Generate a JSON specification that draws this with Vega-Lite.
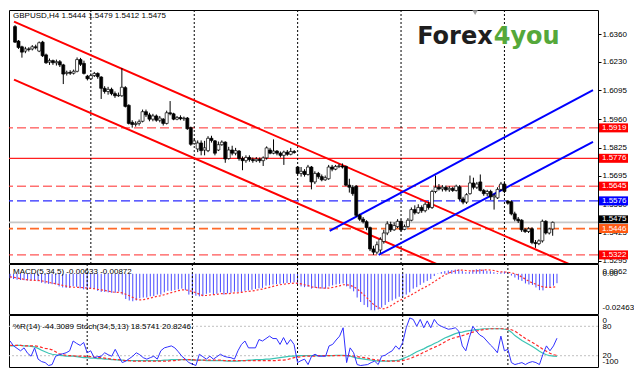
{
"$schema": "https://vega.github.io/schema/vega-lite/v6.json",
"background": "white",
"padding": {"left": 7, "top": 9, "right": 0, "bottom": 0},
"spacing": 1,
"bounds": "flush",
"config": {"view": {"stroke": "#000000", "strokeWidth": 1}, "font": "Liberation Sans", "axis": {"labelOverlap": false, "labelBound": false}},
"datasets": {
"weeks": [{"w":22},{"w":52},{"w":82},{"w":112},{"w":142}],
"levels": [{"p":1.5919,"k":"r"},{"p":1.5776,"k":"rs"},{"p":1.5645,"k":"r"},{"p":1.5576,"k":"b"},{"p":1.5475,"k":"g"},{"p":1.5446,"k":"o"},{"p":1.5322,"k":"r"}],
"chan": [{"ln":"redU","i":-0.3,"p":1.6418},{"ln":"redU","i":167.7,"p":1.5230},{"ln":"redL","i":-0.3,"p":1.6146},{"ln":"redL","i":130,"p":1.5225},{"ln":"blueU","i":91.3,"p":1.5435},{"ln":"blueU","i":167.7,"p":1.6097},{"ln":"blueL","i":105.5,"p":1.5322},{"ln":"blueL","i":167.7,"p":1.5853}],
"wrlev": [{"v":80},{"v":20}],
"bars": [
{"i":0,"o":1.6395,"h":1.6402,"l":1.6318,"c":1.6322,"m":-0.0030,"s":-0.0020,"wr":-50,"st":40,"ss":41},
{"i":1,"o":1.6327,"h":1.6332,"l":1.6290,"c":1.6297,"m":-0.0035,"s":-0.0024,"wr":-60,"st":40,"ss":41},
{"i":2,"o":1.6300,"h":1.6305,"l":1.6249,"c":1.6275,"m":-0.0040,"s":-0.0028,"wr":-65,"st":41,"ss":41},
{"i":3,"o":1.6280,"h":1.6300,"l":1.6270,"c":1.6290,"m":-0.0042,"s":-0.0033,"wr":-70,"st":41,"ss":41},
{"i":4,"o":1.6290,"h":1.6298,"l":1.6278,"c":1.6288,"m":-0.0043,"s":-0.0038,"wr":-64,"st":40,"ss":40},
{"i":5,"o":1.6290,"h":1.6308,"l":1.6283,"c":1.6300,"m":-0.0045,"s":-0.0041,"wr":-75,"st":40,"ss":40},
{"i":6,"o":1.6300,"h":1.6310,"l":1.6288,"c":1.6296,"m":-0.0045,"s":-0.0043,"wr":-81,"st":39,"ss":40},
{"i":7,"o":1.6280,"h":1.6325,"l":1.6275,"c":1.6319,"m":-0.0042,"s":-0.0044,"wr":-64,"st":38,"ss":40},
{"i":8,"o":1.6322,"h":1.6328,"l":1.6252,"c":1.6258,"m":-0.0050,"s":-0.0045,"wr":-87,"st":35,"ss":39},
{"i":9,"o":1.6262,"h":1.6268,"l":1.6220,"c":1.6225,"m":-0.0060,"s":-0.0048,"wr":-92,"st":31,"ss":37},
{"i":10,"o":1.6228,"h":1.6245,"l":1.6215,"c":1.6235,"m":-0.0065,"s":-0.0052,"wr":-94,"st":28,"ss":35},
{"i":11,"o":1.6235,"h":1.6240,"l":1.6215,"c":1.6225,"m":-0.0068,"s":-0.0057,"wr":-100,"st":25,"ss":34},
{"i":12,"o":1.6225,"h":1.6240,"l":1.6212,"c":1.6230,"m":-0.0070,"s":-0.0063,"wr":-98,"st":23,"ss":32},
{"i":13,"o":1.6230,"h":1.6238,"l":1.6205,"c":1.6215,"m":-0.0072,"s":-0.0067,"wr":-81,"st":22,"ss":28},
{"i":14,"o":1.6215,"h":1.6220,"l":1.6125,"c":1.6172,"m":-0.0085,"s":-0.0072,"wr":-78,"st":21,"ss":24},
{"i":15,"o":1.6175,"h":1.6188,"l":1.6165,"c":1.6180,"m":-0.0092,"s":-0.0078,"wr":-76,"st":20,"ss":22},
{"i":16,"o":1.6180,"h":1.6190,"l":1.6168,"c":1.6176,"m":-0.0095,"s":-0.0083,"wr":-74,"st":19,"ss":21},
{"i":17,"o":1.6176,"h":1.6193,"l":1.6170,"c":1.6185,"m":-0.0095,"s":-0.0088,"wr":-70,"st":19,"ss":20},
{"i":18,"o":1.6185,"h":1.6250,"l":1.6180,"c":1.6240,"m":-0.0085,"s":-0.0090,"wr":-50,"st":19,"ss":20},
{"i":19,"o":1.6240,"h":1.6248,"l":1.6210,"c":1.6218,"m":-0.0088,"s":-0.0091,"wr":-55,"st":18,"ss":19},
{"i":20,"o":1.6222,"h":1.6235,"l":1.6170,"c":1.6175,"m":-0.0098,"s":-0.0092,"wr":-59,"st":17,"ss":19},
{"i":21,"o":1.6162,"h":1.6168,"l":1.6142,"c":1.6150,"m":-0.0105,"s":-0.0094,"wr":-53,"st":16,"ss":19},
{"i":22,"o":1.6150,"h":1.6175,"l":1.6145,"c":1.6165,"m":-0.0102,"s":-0.0096,"wr":-74,"st":16,"ss":18},
{"i":23,"o":1.6165,"h":1.6182,"l":1.6158,"c":1.6175,"m":-0.0100,"s":-0.0098,"wr":-70,"st":15,"ss":18},
{"i":24,"o":1.6175,"h":1.6180,"l":1.6150,"c":1.6160,"m":-0.0102,"s":-0.0101,"wr":-84,"st":15,"ss":17},
{"i":25,"o":1.6158,"h":1.6162,"l":1.6055,"c":1.6105,"m":-0.0115,"s":-0.0105,"wr":-82,"st":14,"ss":16},
{"i":26,"o":1.6105,"h":1.6115,"l":1.6080,"c":1.6090,"m":-0.0122,"s":-0.0108,"wr":-81,"st":14,"ss":16},
{"i":27,"o":1.6090,"h":1.6112,"l":1.6075,"c":1.6100,"m":-0.0122,"s":-0.0112,"wr":-74,"st":13,"ss":15},
{"i":28,"o":1.6100,"h":1.6108,"l":1.6072,"c":1.6080,"m":-0.0125,"s":-0.0117,"wr":-78,"st":13,"ss":14},
{"i":29,"o":1.6080,"h":1.6090,"l":1.6060,"c":1.6070,"m":-0.0128,"s":-0.0122,"wr":-81,"st":12,"ss":13},
{"i":30,"o":1.6070,"h":1.6085,"l":1.6065,"c":1.6072,"m":-0.0128,"s":-0.0125,"wr":-67,"st":12,"ss":12},
{"i":31,"o":1.6070,"h":1.6200,"l":1.6065,"c":1.6110,"m":-0.0120,"s":-0.0125,"wr":-81,"st":11,"ss":12},
{"i":32,"o":1.6108,"h":1.6115,"l":1.6015,"c":1.6020,"m":-0.0140,"s":-0.0128,"wr":-94,"st":11,"ss":11},
{"i":33,"o":1.6025,"h":1.6030,"l":1.5935,"c":1.5940,"m":-0.0170,"s":-0.0138,"wr":-91,"st":10,"ss":10},
{"i":34,"o":1.5945,"h":1.5955,"l":1.5920,"c":1.5935,"m":-0.0180,"s":-0.0148,"wr":-86,"st":10,"ss":10},
{"i":35,"o":1.5935,"h":1.5950,"l":1.5925,"c":1.5940,"m":-0.0185,"s":-0.0159,"wr":-81,"st":10,"ss":9},
{"i":36,"o":1.5940,"h":1.5958,"l":1.5930,"c":1.5948,"m":-0.0180,"s":-0.0171,"wr":-74,"st":10,"ss":9},
{"i":37,"o":1.5950,"h":1.6005,"l":1.5945,"c":1.5995,"m":-0.0165,"s":-0.0176,"wr":-78,"st":10,"ss":9},
{"i":38,"o":1.5995,"h":1.6005,"l":1.5970,"c":1.5980,"m":-0.0160,"s":-0.0174,"wr":-84,"st":10,"ss":9},
{"i":39,"o":1.5980,"h":1.5990,"l":1.5950,"c":1.5960,"m":-0.0160,"s":-0.0170,"wr":-87,"st":10,"ss":9},
{"i":40,"o":1.5960,"h":1.5985,"l":1.5950,"c":1.5975,"m":-0.0152,"s":-0.0163,"wr":-84,"st":10,"ss":9},
{"i":41,"o":1.5975,"h":1.5982,"l":1.5948,"c":1.5955,"m":-0.0150,"s":-0.0157,"wr":-81,"st":10,"ss":9},
{"i":42,"o":1.5955,"h":1.5975,"l":1.5945,"c":1.5965,"m":-0.0140,"s":-0.0152,"wr":-87,"st":10,"ss":9},
{"i":43,"o":1.5960,"h":1.5965,"l":1.5930,"c":1.5940,"m":-0.0140,"s":-0.0148,"wr":-70,"st":10,"ss":9},
{"i":44,"o":1.5940,"h":1.6000,"l":1.5935,"c":1.5990,"m":-0.0125,"s":-0.0141,"wr":-64,"st":11,"ss":9},
{"i":45,"o":1.5990,"h":1.6045,"l":1.5978,"c":1.5985,"m":-0.0115,"s":-0.0134,"wr":-62,"st":11,"ss":9},
{"i":46,"o":1.5985,"h":1.5990,"l":1.5955,"c":1.5960,"m":-0.0115,"s":-0.0127,"wr":-60,"st":12,"ss":10},
{"i":47,"o":1.5960,"h":1.5975,"l":1.5955,"c":1.5968,"m":-0.0110,"s":-0.0121,"wr":-64,"st":12,"ss":10},
{"i":48,"o":1.5968,"h":1.5978,"l":1.5955,"c":1.5962,"m":-0.0105,"s":-0.0114,"wr":-72,"st":12,"ss":11},
{"i":49,"o":1.5962,"h":1.5972,"l":1.5952,"c":1.5965,"m":-0.0100,"s":-0.0109,"wr":-81,"st":12,"ss":12},
{"i":50,"o":1.5965,"h":1.5970,"l":1.5910,"c":1.5915,"m":-0.0110,"s":-0.0108,"wr":-87,"st":12,"ss":12},
{"i":51,"o":1.5920,"h":1.5925,"l":1.5835,"c":1.5842,"m":-0.0140,"s":-0.0114,"wr":-94,"st":12,"ss":12},
{"i":52,"o":1.5845,"h":1.5870,"l":1.5840,"c":1.5858,"m":-0.0145,"s":-0.0120,"wr":-97,"st":11,"ss":12},
{"i":53,"o":1.5820,"h":1.5860,"l":1.5805,"c":1.5848,"m":-0.0148,"s":-0.0128,"wr":-100,"st":11,"ss":11},
{"i":54,"o":1.5848,"h":1.5860,"l":1.5790,"c":1.5812,"m":-0.0152,"s":-0.0137,"wr":-77,"st":11,"ss":11},
{"i":55,"o":1.5815,"h":1.5858,"l":1.5790,"c":1.5825,"m":-0.0150,"s":-0.0147,"wr":-82,"st":11,"ss":11},
{"i":56,"o":1.5812,"h":1.5880,"l":1.5805,"c":1.5870,"m":-0.0135,"s":-0.0146,"wr":-87,"st":10,"ss":11},
{"i":57,"o":1.5870,"h":1.5882,"l":1.5850,"c":1.5860,"m":-0.0128,"s":-0.0143,"wr":-81,"st":10,"ss":11},
{"i":58,"o":1.5858,"h":1.5862,"l":1.5790,"c":1.5800,"m":-0.0140,"s":-0.0141,"wr":-87,"st":10,"ss":11},
{"i":59,"o":1.5815,"h":1.5855,"l":1.5810,"c":1.5840,"m":-0.0135,"s":-0.0139,"wr":-82,"st":10,"ss":11},
{"i":60,"o":1.5840,"h":1.5860,"l":1.5835,"c":1.5852,"m":-0.0125,"s":-0.0134,"wr":-77,"st":10,"ss":11},
{"i":61,"o":1.5852,"h":1.5856,"l":1.5755,"c":1.5773,"m":-0.0140,"s":-0.0134,"wr":-81,"st":10,"ss":10},
{"i":62,"o":1.5775,"h":1.5830,"l":1.5770,"c":1.5815,"m":-0.0132,"s":-0.0134,"wr":-83,"st":9,"ss":10},
{"i":63,"o":1.5815,"h":1.5835,"l":1.5790,"c":1.5800,"m":-0.0128,"s":-0.0132,"wr":-84,"st":9,"ss":10},
{"i":64,"o":1.5800,"h":1.5825,"l":1.5790,"c":1.5812,"m":-0.0120,"s":-0.0129,"wr":-87,"st":9,"ss":10},
{"i":65,"o":1.5810,"h":1.5815,"l":1.5765,"c":1.5775,"m":-0.0122,"s":-0.0128,"wr":-70,"st":9,"ss":10},
{"i":66,"o":1.5775,"h":1.5785,"l":1.5720,"c":1.5765,"m":-0.0122,"s":-0.0125,"wr":-57,"st":10,"ss":10},
{"i":67,"o":1.5765,"h":1.5790,"l":1.5755,"c":1.5780,"m":-0.0115,"s":-0.0121,"wr":-50,"st":10,"ss":10},
{"i":68,"o":1.5780,"h":1.5790,"l":1.5760,"c":1.5770,"m":-0.0112,"s":-0.0118,"wr":-64,"st":11,"ss":10},
{"i":69,"o":1.5770,"h":1.5780,"l":1.5755,"c":1.5765,"m":-0.0108,"s":-0.0116,"wr":-64,"st":11,"ss":10},
{"i":70,"o":1.5765,"h":1.5782,"l":1.5758,"c":1.5772,"m":-0.0102,"s":-0.0112,"wr":-64,"st":12,"ss":10},
{"i":71,"o":1.5772,"h":1.5780,"l":1.5755,"c":1.5765,"m":-0.0098,"s":-0.0107,"wr":-47,"st":12,"ss":10},
{"i":72,"o":1.5765,"h":1.5785,"l":1.5740,"c":1.5778,"m":-0.0095,"s":-0.0103,"wr":-50,"st":12,"ss":10},
{"i":73,"o":1.5778,"h":1.5832,"l":1.5770,"c":1.5825,"m":-0.0080,"s":-0.0097,"wr":-45,"st":13,"ss":10},
{"i":74,"o":1.5815,"h":1.5825,"l":1.5795,"c":1.5800,"m":-0.0078,"s":-0.0091,"wr":-40,"st":13,"ss":10},
{"i":75,"o":1.5800,"h":1.5865,"l":1.5795,"c":1.5810,"m":-0.0072,"s":-0.0085,"wr":-45,"st":14,"ss":10},
{"i":76,"o":1.5810,"h":1.5815,"l":1.5790,"c":1.5800,"m":-0.0070,"s":-0.0079,"wr":-45,"st":15,"ss":10},
{"i":77,"o":1.5800,"h":1.5808,"l":1.5780,"c":1.5790,"m":-0.0068,"s":-0.0074,"wr":-57,"st":16,"ss":11},
{"i":78,"o":1.5790,"h":1.5812,"l":1.5745,"c":1.5805,"m":-0.0065,"s":-0.0071,"wr":-43,"st":17,"ss":11},
{"i":79,"o":1.5805,"h":1.5815,"l":1.5788,"c":1.5795,"m":-0.0062,"s":-0.0067,"wr":-57,"st":18,"ss":12},
{"i":80,"o":1.5795,"h":1.5825,"l":1.5790,"c":1.5808,"m":-0.0060,"s":-0.0065,"wr":-47,"st":19,"ss":14},
{"i":81,"o":1.5808,"h":1.5815,"l":1.5798,"c":1.5803,"m":-0.0058,"s":-0.0063,"wr":-57,"st":19,"ss":16},
{"i":82,"o":1.5735,"h":1.5740,"l":1.5700,"c":1.5705,"m":-0.0075,"s":-0.0064,"wr":-94,"st":20,"ss":17},
{"i":83,"o":1.5705,"h":1.5735,"l":1.5690,"c":1.5715,"m":-0.0085,"s":-0.0068,"wr":-90,"st":20,"ss":18},
{"i":84,"o":1.5715,"h":1.5725,"l":1.5690,"c":1.5700,"m":-0.0090,"s":-0.0074,"wr":-87,"st":20,"ss":19},
{"i":85,"o":1.5700,"h":1.5745,"l":1.5695,"c":1.5735,"m":-0.0088,"s":-0.0079,"wr":-98,"st":20,"ss":19},
{"i":86,"o":1.5735,"h":1.5740,"l":1.5630,"c":1.5665,"m":-0.0100,"s":-0.0088,"wr":-81,"st":20,"ss":19},
{"i":87,"o":1.5665,"h":1.5715,"l":1.5655,"c":1.5705,"m":-0.0095,"s":-0.0092,"wr":-77,"st":20,"ss":19},
{"i":88,"o":1.5705,"h":1.5712,"l":1.5680,"c":1.5690,"m":-0.0098,"s":-0.0094,"wr":-81,"st":20,"ss":20},
{"i":89,"o":1.5690,"h":1.5700,"l":1.5668,"c":1.5675,"m":-0.0100,"s":-0.0096,"wr":-81,"st":20,"ss":20},
{"i":90,"o":1.5675,"h":1.5695,"l":1.5670,"c":1.5685,"m":-0.0100,"s":-0.0097,"wr":-81,"st":20,"ss":20},
{"i":91,"o":1.5680,"h":1.5745,"l":1.5675,"c":1.5735,"m":-0.0085,"s":-0.0096,"wr":-60,"st":20,"ss":20},
{"i":92,"o":1.5735,"h":1.5745,"l":1.5715,"c":1.5725,"m":-0.0078,"s":-0.0092,"wr":-57,"st":20,"ss":20},
{"i":93,"o":1.5725,"h":1.5745,"l":1.5720,"c":1.5738,"m":-0.0072,"s":-0.0087,"wr":-48,"st":21,"ss":20},
{"i":94,"o":1.5738,"h":1.5750,"l":1.5730,"c":1.5740,"m":-0.0068,"s":-0.0081,"wr":-40,"st":21,"ss":20},
{"i":95,"o":1.5740,"h":1.5752,"l":1.5728,"c":1.5735,"m":-0.0065,"s":-0.0074,"wr":-23,"st":21,"ss":20},
{"i":96,"o":1.5738,"h":1.5742,"l":1.5645,"c":1.5650,"m":-0.0085,"s":-0.0074,"wr":-94,"st":20,"ss":20},
{"i":97,"o":1.5650,"h":1.5680,"l":1.5615,"c":1.5640,"m":-0.0100,"s":-0.0078,"wr":-64,"st":19,"ss":20},
{"i":98,"o":1.5640,"h":1.5650,"l":1.5600,"c":1.5610,"m":-0.0118,"s":-0.0087,"wr":-74,"st":17,"ss":19},
{"i":99,"o":1.5645,"h":1.5650,"l":1.5500,"c":1.5508,"m":-0.0160,"s":-0.0102,"wr":-98,"st":15,"ss":18},
{"i":100,"o":1.5508,"h":1.5515,"l":1.5482,"c":1.5490,"m":-0.0190,"s":-0.0123,"wr":-100,"st":14,"ss":17},
{"i":101,"o":1.5490,"h":1.5500,"l":1.5470,"c":1.5478,"m":-0.0210,"s":-0.0144,"wr":-99,"st":13,"ss":16},
{"i":102,"o":1.5478,"h":1.5485,"l":1.5438,"c":1.5450,"m":-0.0225,"s":-0.0167,"wr":-98,"st":12,"ss":15},
{"i":103,"o":1.5450,"h":1.5455,"l":1.5340,"c":1.5350,"m":-0.0245,"s":-0.0192,"wr":-94,"st":11,"ss":13},
{"i":104,"o":1.5350,"h":1.5365,"l":1.5322,"c":1.5335,"m":-0.0246,"s":-0.0213,"wr":-91,"st":10,"ss":12},
{"i":105,"o":1.5335,"h":1.5385,"l":1.5325,"c":1.5370,"m":-0.0240,"s":-0.0227,"wr":-98,"st":9,"ss":11},
{"i":106,"o":1.5345,"h":1.5405,"l":1.5330,"c":1.5395,"m":-0.0228,"s":-0.0237,"wr":-81,"st":9,"ss":10},
{"i":107,"o":1.5385,"h":1.5440,"l":1.5375,"c":1.5425,"m":-0.0210,"s":-0.0234,"wr":-79,"st":9,"ss":10},
{"i":108,"o":1.5425,"h":1.5480,"l":1.5415,"c":1.5468,"m":-0.0190,"s":-0.0223,"wr":-74,"st":9,"ss":9},
{"i":109,"o":1.5465,"h":1.5478,"l":1.5430,"c":1.5440,"m":-0.0180,"s":-0.0210,"wr":-70,"st":10,"ss":9},
{"i":110,"o":1.5440,"h":1.5475,"l":1.5435,"c":1.5460,"m":-0.0168,"s":-0.0195,"wr":-60,"st":10,"ss":9},
{"i":111,"o":1.5455,"h":1.5490,"l":1.5448,"c":1.5480,"m":-0.0155,"s":-0.0181,"wr":-67,"st":11,"ss":9},
{"i":112,"o":1.5480,"h":1.5488,"l":1.5432,"c":1.5440,"m":-0.0150,"s":-0.0171,"wr":-53,"st":14,"ss":10},
{"i":113,"o":1.5442,"h":1.5465,"l":1.5438,"c":1.5455,"m":-0.0140,"s":-0.0159,"wr":-23,"st":17,"ss":12},
{"i":114,"o":1.5455,"h":1.5495,"l":1.5450,"c":1.5485,"m":-0.0125,"s":-0.0148,"wr":-3,"st":20,"ss":14},
{"i":115,"o":1.5485,"h":1.5545,"l":1.5480,"c":1.5535,"m":-0.0100,"s":-0.0134,"wr":-6,"st":24,"ss":17},
{"i":116,"o":1.5535,"h":1.5555,"l":1.5512,"c":1.5520,"m":-0.0090,"s":-0.0121,"wr":-20,"st":28,"ss":20},
{"i":117,"o":1.5520,"h":1.5560,"l":1.5515,"c":1.5545,"m":-0.0075,"s":-0.0106,"wr":-6,"st":31,"ss":23},
{"i":118,"o":1.5545,"h":1.5555,"l":1.5520,"c":1.5530,"m":-0.0060,"s":-0.0095,"wr":-23,"st":34,"ss":27},
{"i":119,"o":1.5530,"h":1.5570,"l":1.5522,"c":1.5560,"m":-0.0048,"s":-0.0082,"wr":-9,"st":38,"ss":30},
{"i":120,"o":1.5560,"h":1.5572,"l":1.5535,"c":1.5545,"m":-0.0035,"s":-0.0068,"wr":-23,"st":41,"ss":34},
{"i":121,"o":1.5545,"h":1.5628,"l":1.5538,"c":1.5620,"m":-0.0015,"s":-0.0053,"wr":-6,"st":45,"ss":37},
{"i":122,"o":1.5620,"h":1.5695,"l":1.5612,"c":1.5640,"m":0.0003,"s":-0.0037,"wr":-16,"st":48,"ss":40},
{"i":123,"o":1.5640,"h":1.5655,"l":1.5625,"c":1.5632,"m":0.0012,"s":-0.0022,"wr":-20,"st":52,"ss":44},
{"i":124,"o":1.5632,"h":1.5650,"l":1.5620,"c":1.5640,"m":0.0018,"s":-0.0008,"wr":-23,"st":56,"ss":48},
{"i":125,"o":1.5640,"h":1.5648,"l":1.5620,"c":1.5628,"m":0.0022,"s":0.0004,"wr":-26,"st":59,"ss":52},
{"i":126,"o":1.5628,"h":1.5645,"l":1.5618,"c":1.5635,"m":0.0025,"s":0.0013,"wr":-25,"st":62,"ss":55},
{"i":127,"o":1.5635,"h":1.5642,"l":1.5618,"c":1.5625,"m":0.0028,"s":0.0020,"wr":-23,"st":65,"ss":57},
{"i":128,"o":1.5625,"h":1.5652,"l":1.5620,"c":1.5645,"m":0.0030,"s":0.0025,"wr":-30,"st":67,"ss":59},
{"i":129,"o":1.5642,"h":1.5650,"l":1.5578,"c":1.5585,"m":0.0018,"s":0.0025,"wr":-60,"st":68,"ss":61},
{"i":130,"o":1.5585,"h":1.5595,"l":1.5560,"c":1.5570,"m":0.0010,"s":0.0022,"wr":-70,"st":70,"ss":63},
{"i":131,"o":1.5570,"h":1.5612,"l":1.5562,"c":1.5605,"m":0.0012,"s":0.0020,"wr":-43,"st":71,"ss":66},
{"i":132,"o":1.5610,"h":1.5695,"l":1.5605,"c":1.5660,"m":0.0026,"s":0.0019,"wr":-20,"st":72,"ss":68},
{"i":133,"o":1.5660,"h":1.5685,"l":1.5630,"c":1.5640,"m":0.0030,"s":0.0019,"wr":-30,"st":73,"ss":70},
{"i":134,"o":1.5640,"h":1.5665,"l":1.5632,"c":1.5655,"m":0.0032,"s":0.0022,"wr":-38,"st":74,"ss":72},
{"i":135,"o":1.5665,"h":1.5700,"l":1.5620,"c":1.5625,"m":0.0028,"s":0.0026,"wr":-42,"st":75,"ss":73},
{"i":136,"o":1.5625,"h":1.5632,"l":1.5600,"c":1.5610,"m":0.0020,"s":0.0027,"wr":-50,"st":75,"ss":74},
{"i":137,"o":1.5610,"h":1.5628,"l":1.5598,"c":1.5620,"m":0.0017,"s":0.0025,"wr":-58,"st":75,"ss":75},
{"i":138,"o":1.5620,"h":1.5628,"l":1.5580,"c":1.5595,"m":0.0011,"s":0.0022,"wr":-65,"st":75,"ss":75},
{"i":139,"o":1.5595,"h":1.5610,"l":1.5535,"c":1.5600,"m":0.0005,"s":0.0016,"wr":-74,"st":75,"ss":75},
{"i":140,"o":1.5590,"h":1.5640,"l":1.5585,"c":1.5630,"m":0.0010,"s":0.0013,"wr":-40,"st":75,"ss":75},
{"i":141,"o":1.5630,"h":1.5665,"l":1.5622,"c":1.5655,"m":0.0016,"s":0.0012,"wr":-70,"st":74,"ss":75},
{"i":142,"o":1.5655,"h":1.5668,"l":1.5612,"c":1.5620,"m":0.0010,"s":0.0010,"wr":-67,"st":73,"ss":74},
{"i":143,"o":1.5575,"h":1.5580,"l":1.5558,"c":1.5565,"m":-0.0012,"s":0.0006,"wr":-94,"st":68,"ss":73},
{"i":144,"o":1.5572,"h":1.5578,"l":1.5508,"c":1.5515,"m":-0.0025,"s":0.0001,"wr":-98,"st":61,"ss":70},
{"i":145,"o":1.5515,"h":1.5525,"l":1.5480,"c":1.5490,"m":-0.0040,"s":-0.0009,"wr":-96,"st":56,"ss":65},
{"i":146,"o":1.5490,"h":1.5500,"l":1.5472,"c":1.5482,"m":-0.0048,"s":-0.0022,"wr":-94,"st":51,"ss":60},
{"i":147,"o":1.5485,"h":1.5490,"l":1.5430,"c":1.5440,"m":-0.0065,"s":-0.0036,"wr":-98,"st":47,"ss":55},
{"i":148,"o":1.5440,"h":1.5448,"l":1.5425,"c":1.5432,"m":-0.0072,"s":-0.0050,"wr":-94,"st":43,"ss":51},
{"i":149,"o":1.5432,"h":1.5452,"l":1.5425,"c":1.5445,"m":-0.0075,"s":-0.0062,"wr":-92,"st":39,"ss":47},
{"i":150,"o":1.5445,"h":1.5452,"l":1.5372,"c":1.5380,"m":-0.0092,"s":-0.0070,"wr":-94,"st":34,"ss":43},
{"i":151,"o":1.5380,"h":1.5392,"l":1.5355,"c":1.5375,"m":-0.0110,"s":-0.0081,"wr":-98,"st":29,"ss":38},
{"i":152,"o":1.5375,"h":1.5395,"l":1.5368,"c":1.5388,"m":-0.0112,"s":-0.0088,"wr":-77,"st":25,"ss":33},
{"i":153,"o":1.5388,"h":1.5488,"l":1.5380,"c":1.5480,"m":-0.0095,"s":-0.0091,"wr":-60,"st":22,"ss":29},
{"i":154,"o":1.5480,"h":1.5485,"l":1.5418,"c":1.5425,"m":-0.0090,"s":-0.0092,"wr":-70,"st":20,"ss":25},
{"i":155,"o":1.5425,"h":1.5450,"l":1.5418,"c":1.5444,"m":-0.0080,"s":-0.0090,"wr":-60,"st":19,"ss":22},
{"i":156,"o":1.5444,"h":1.5479,"l":1.5412,"c":1.5475,"m":-0.00633,"s":-0.00872,"wr":-44.3089,"st":18.5741,"ss":20.8246}
]
},
"vconcat": [
{
"width": 589, "height": 253,
"title": {"text": "GBPUSD,H4  1.5444 1.5479 1.5412 1.5475", "anchor": "start", "frame": "group", "orient": "top", "offset": -10, "dx": 4, "font": "Liberation Sans", "fontSize": 8, "fontWeight": "normal", "color": "#000000"},
"resolve": {"axis": {"y": "independent"}},
"layer": [
{"data": {"name": "levels"}, "mark": {"type": "rule"},
 "encoding": {
  "y": {"field": "p", "type": "quantitative", "title": null, "scale": {"domain": [1.5284, 1.6473], "nice": false, "zero": false},
   "axis": {"orient": "right", "values": [1.636, 1.623, 1.6095, 1.596, 1.5825, 1.5695, 1.556, 1.5425, 1.5295], "format": ".4f", "domain": false, "grid": false, "ticks": true, "tickSize": 3, "tickColor": "#000000", "labelPadding": 1, "labelFont": "Liberation Sans", "labelFontSize": 8, "labelColor": "#000000", "labelOverlap": false, "labelBound": false, "zindex": 0}},
  "stroke": {"field": "k", "type": "nominal", "legend": null, "scale": {"domain": ["r", "rs", "b", "g", "o"], "range": ["#ff2a2a", "#ff2020", "#2a2aff", "#c8c8c8", "#ff6a2a"]}},
  "strokeDash": {"field": "k", "type": "nominal", "legend": null, "scale": {"domain": ["r", "rs", "b", "g", "o"], "range": [[9, 4], [1, 0], [9, 4], [1, 0], [9, 4]]}},
  "strokeWidth": {"field": "k", "type": "nominal", "legend": null, "scale": {"domain": ["r", "rs", "b", "g", "o"], "range": [1, 1.8, 1, 1, 1]}}
 }},
{"data": {"name": "weeks"}, "mark": {"type": "rule", "strokeDash": [2, 2], "color": "#000000", "strokeWidth": 1},
 "encoding": {"x": {"field": "w", "type": "quantitative", "scale": {"domain": [-0.3, 167.7], "nice": false, "zero": false}, "axis": null, "title": null}}},
{"data": {"name": "chan"}, "mark": {"type": "line", "strokeWidth": 2, "clip": true},
 "encoding": {
  "x": {"field": "i", "type": "quantitative", "scale": {"domain": [-0.3, 167.7], "nice": false, "zero": false}, "axis": null, "title": null},
  "y": {"field": "p", "type": "quantitative", "scale": {"domain": [1.5284, 1.6473], "nice": false, "zero": false}, "axis": null, "title": null},
  "color": {"field": "ln", "type": "nominal", "legend": null, "scale": {"domain": ["redU", "redL", "blueU", "blueL"], "range": ["#ff0000", "#ff0000", "#0000ff", "#0000ff"]}}
 }},
{"data": {"name": "bars"}, "mark": {"type": "rule", "color": "#000000", "strokeWidth": 1, "clip": true},
 "encoding": {
  "x": {"field": "i", "type": "quantitative", "scale": {"domain": [-0.3, 167.7], "nice": false, "zero": false}, "axis": null, "title": null},
  "y": {"field": "l", "type": "quantitative", "scale": {"domain": [1.5284, 1.6473], "nice": false, "zero": false}, "axis": null, "title": null},
  "y2": {"field": "h"}
 }},
{"data": {"name": "bars"}, "mark": {"type": "bar", "width": 3, "stroke": "#000000", "strokeWidth": 0.7, "clip": true},
 "encoding": {
  "x": {"field": "i", "type": "quantitative", "scale": {"domain": [-0.3, 167.7], "nice": false, "zero": false}, "axis": null, "title": null},
  "y": {"field": "o", "type": "quantitative", "scale": {"domain": [1.5284, 1.6473], "nice": false, "zero": false}, "axis": null, "title": null},
  "y2": {"field": "c"},
  "fill": {"condition": {"test": "datum.c > datum.o", "value": "#ffffff"}, "value": "#000000"}
 }},
{"data": {"name": "levels"}, "transform": [{"filter": "datum.k != 'g'"}], "mark": {"type": "rect", "xOffset": 1, "x2Offset": 30, "yOffset": -4.5, "y2Offset": 4.5},
 "encoding": {
  "x": {"value": "width"}, "x2": {"value": "width"},
  "y": {"field": "p", "type": "quantitative", "scale": {"domain": [1.5284, 1.6473], "nice": false, "zero": false}, "axis": null, "title": null},
  "y2": {"field": "p"},
  "fill": {"field": "k", "type": "nominal", "legend": null, "scale": {"domain": ["r", "rs", "b", "g", "o"], "range": ["#ff0000", "#ff0000", "#0000ff", "#000000", "#ff5a14"]}}
 }},
{"data": {"name": "levels"}, "transform": [{"filter": "datum.k == 'g'"}], "mark": {"type": "rect", "xOffset": 1, "x2Offset": 30, "yOffset": -7, "y2Offset": 1, "color": "#000000"},
 "encoding": {
  "x": {"value": "width"}, "x2": {"value": "width"},
  "y": {"field": "p", "type": "quantitative", "scale": {"domain": [1.5284, 1.6473], "nice": false, "zero": false}, "axis": null, "title": null},
  "y2": {"field": "p"}
 }},
{"data": {"name": "levels"}, "transform": [{"filter": "datum.k != 'g'"}], "mark": {"type": "text", "align": "left", "baseline": "middle", "dx": 4, "font": "Liberation Sans", "fontSize": 8, "color": "#ffffff"},
 "encoding": {
  "x": {"value": "width"},
  "y": {"field": "p", "type": "quantitative", "scale": {"domain": [1.5284, 1.6473], "nice": false, "zero": false}, "axis": null, "title": null},
  "text": {"field": "p", "type": "quantitative", "format": ".4f"}
 }},
{"data": {"name": "levels"}, "transform": [{"filter": "datum.k == 'g'"}], "mark": {"type": "text", "align": "left", "baseline": "middle", "dx": 4, "dy": -3, "font": "Liberation Sans", "fontSize": 8, "color": "#ffffff"},
 "encoding": {
  "x": {"value": "width"},
  "y": {"field": "p", "type": "quantitative", "scale": {"domain": [1.5284, 1.6473], "nice": false, "zero": false}, "axis": null, "title": null},
  "text": {"field": "p", "type": "quantitative", "format": ".4f"}
 }},
{"data": {"values": [{"t": "Forex"}]}, "mark": {"type": "text", "align": "right", "baseline": "alphabetic", "font": "DejaVu Sans", "fontWeight": "bold", "fontSize": 24, "color": "#1e1e1e"},
 "encoding": {
  "x": {"datum": 138.6, "type": "quantitative", "scale": {"domain": [-0.3, 167.7], "nice": false, "zero": false}, "axis": null},
  "y": {"datum": 1.6312, "type": "quantitative", "scale": {"domain": [1.5284, 1.6473], "nice": false, "zero": false}, "axis": null},
  "text": {"field": "t"}
 }},
{"data": {"values": [{"t": "4you"}]}, "mark": {"type": "text", "align": "left", "baseline": "alphabetic", "font": "DejaVu Sans", "fontWeight": "bold", "fontSize": 24, "color": "#55a83a"},
 "encoding": {
  "x": {"datum": 138.9, "type": "quantitative", "scale": {"domain": [-0.3, 167.7], "nice": false, "zero": false}, "axis": null},
  "y": {"datum": 1.6312, "type": "quantitative", "scale": {"domain": [1.5284, 1.6473], "nice": false, "zero": false}, "axis": null},
  "text": {"field": "t"}
 }},
{"data": {"values": [{"i": 133.5, "p": 1.6461}]}, "mark": {"type": "point", "shape": "triangle-down", "filled": true, "size": 30, "color": "#a0a0a0", "opacity": 1, "clip": true},
 "encoding": {
  "x": {"field": "i", "type": "quantitative", "scale": {"domain": [-0.3, 167.7], "nice": false, "zero": false}, "axis": null, "title": null},
  "y": {"field": "p", "type": "quantitative", "scale": {"domain": [1.5284, 1.6473], "nice": false, "zero": false}, "axis": null, "title": null}
 }}
]
},
{
"width": 589, "height": 50,
"title": {"text": "MACD(5,34,5) -0.00633 -0.00872", "anchor": "start", "frame": "group", "orient": "top", "offset": -12, "dx": 4, "font": "Liberation Sans", "fontSize": 8, "fontWeight": "normal", "color": "#000000"},
"resolve": {"axis": {"y": "independent"}},
"layer": [
{"data": {"name": "bars"}, "mark": {"type": "rule", "color": "#4848ff", "strokeWidth": 1},
 "encoding": {
  "x": {"field": "i", "type": "quantitative", "scale": {"domain": [-0.3, 167.7], "nice": false, "zero": false}, "axis": null, "title": null},
  "y": {"field": "m", "type": "quantitative", "title": null, "scale": {"domain": [-0.0271, 0.0066], "nice": false, "zero": false},
   "axis": {"orient": "right", "values": [0.0016, 0, -0.023], "labelExpr": "datum.value > 0.001 ? '0.0062' : (datum.value < -0.01 ? '-0.02463' : '0.00')", "domain": false, "grid": false, "ticks": false, "labelPadding": 4, "labelFont": "Liberation Sans", "labelFontSize": 8, "labelColor": "#000000", "labelOverlap": false, "labelBound": false}},
  "y2": {"datum": 0}
 }},
{"data": {"name": "weeks"}, "mark": {"type": "rule", "strokeDash": [2, 2], "color": "#000000", "strokeWidth": 1},
 "encoding": {"x": {"field": "w", "type": "quantitative", "scale": {"domain": [-0.3, 167.7], "nice": false, "zero": false}, "axis": null, "title": null}}},
{"data": {"name": "bars"}, "mark": {"type": "line", "color": "#ff3030", "strokeWidth": 1.2, "strokeDash": [2, 2]},
 "encoding": {
  "x": {"field": "i", "type": "quantitative", "scale": {"domain": [-0.3, 167.7], "nice": false, "zero": false}, "axis": null, "title": null},
  "y": {"field": "s", "type": "quantitative", "scale": {"domain": [-0.0271, 0.0066], "nice": false, "zero": false}, "axis": null, "title": null}
 }}
]
},
{
"width": 589, "height": 52,
"title": {"text": "%R(14) -44.3089  Stoch(34,5,13) 18.5741 20.8246", "anchor": "start", "frame": "group", "orient": "top", "offset": -16, "dx": 4, "font": "Liberation Sans", "fontSize": 8, "fontWeight": "normal", "color": "#000000"},
"resolve": {"scale": {"y": "independent"}},
"layer": [
{"data": {"name": "weeks"}, "mark": {"type": "rule", "strokeDash": [2, 2], "color": "#000000", "strokeWidth": 1},
 "encoding": {"x": {"field": "w", "type": "quantitative", "scale": {"domain": [-0.3, 167.7], "nice": false, "zero": false}, "axis": null, "title": null}}},
{"data": {"name": "wrlev"}, "mark": {"type": "rule", "strokeDash": [2, 2], "color": "#c0c0c0", "strokeWidth": 1},
 "encoding": {"y": {"field": "v", "type": "quantitative", "scale": {"domain": [-3, 103], "nice": false, "zero": false}, "axis": null, "title": null}}},
{"data": {"name": "bars"}, "mark": {"type": "line", "color": "#3cc4b4", "strokeWidth": 1.2},
 "encoding": {
  "x": {"field": "i", "type": "quantitative", "title": null, "scale": {"domain": [-0.3, 167.7], "nice": false, "zero": false},
   "axis": {"orient": "bottom", "values": [0, 16, 32, 48, 64, 80, 96, 112, 128, 144], "labelExpr": "['30 Aug 2011','2 Sep 00:00','6 Sep 16:00','9 Sep 08:00','14 Sep 00:00','16 Sep 16:00','21 Sep 08:00','26 Sep 00:00','28 Sep 16:00','3 Oct 08:00'][round(datum.value/16)]", "labelAlign": "left", "labelDx": -1, "labelFont": "Liberation Sans", "labelFontSize": 8, "labelColor": "#000000", "labelOverlap": false, "labelFlush": false, "labelBound": false, "domain": false, "grid": false, "ticks": true, "tickSize": 2, "tickColor": "#000000", "labelPadding": 2}},
  "y": {"field": "st", "type": "quantitative", "title": null, "scale": {"domain": [-3, 103], "nice": false, "zero": false},
   "axis": {"orient": "right", "values": [91, 80, 20, 9], "labelExpr": "datum.value == 91 ? '0' : (datum.value == 9 ? '-100' : datum.label)", "domain": false, "grid": false, "ticks": false, "labelPadding": 4, "labelFont": "Liberation Sans", "labelFontSize": 8, "labelColor": "#000000", "labelOverlap": false, "labelBound": false}}
 }},
{"data": {"name": "bars"}, "mark": {"type": "line", "color": "#ff2a2a", "strokeWidth": 1.2, "strokeDash": [3, 2]},
 "encoding": {
  "x": {"field": "i", "type": "quantitative", "scale": {"domain": [-0.3, 167.7], "nice": false, "zero": false}, "axis": null, "title": null},
  "y": {"field": "ss", "type": "quantitative", "scale": {"domain": [-3, 103], "nice": false, "zero": false}, "axis": null, "title": null}
 }},
{"data": {"name": "bars"}, "mark": {"type": "line", "color": "#3030ff", "strokeWidth": 1},
 "encoding": {
  "x": {"field": "i", "type": "quantitative", "scale": {"domain": [-0.3, 167.7], "nice": false, "zero": false}, "axis": null, "title": null},
  "y": {"field": "wr", "type": "quantitative", "scale": {"domain": [-103, 3], "nice": false, "zero": false}, "axis": null, "title": null}
 }}
]
}
]
}
